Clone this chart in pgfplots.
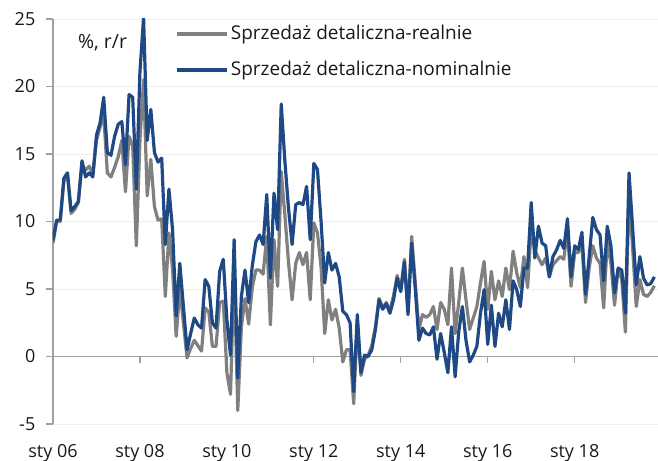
\documentclass[border=0pt]{standalone}
\usepackage{pgfplots}
\usepackage{pgfplotstable}
\pgfplotsset{compat=1.18}
\usepackage{fontspec}
\setmainfont{Open Sans}
\definecolor{nom}{RGB}{31,73,133}
\definecolor{realc}{RGB}{128,128,128}
\definecolor{axc}{RGB}{160,160,160}
\definecolor{gridc}{RGB}{238,238,238}
\definecolor{txt}{RGB}{25,25,25}

\pgfplotstableread{
i real nom
0 8.4 8.6
1 10.0 10.1
2 10.0 10.1
3 13.0 13.2
4 13.4 13.6
5 10.6 10.8
6 10.9 11.1
7 11.4 11.5
8 14.2 14.5
9 13.8 13.3
10 14.1 13.6
11 13.5 13.3
12 16.0 16.4
13 17.0 17.3
14 17.9 19.2
15 13.6 15.1
16 13.3 14.9
17 14.0 16.3
18 14.8 17.2
19 16.0 17.4
20 12.2 14.2
21 16.3 19.4
22 15.6 19.2
23 8.2 12.4
24 16.0 21.1
25 20.5 25.1
26 11.9 16.0
27 14.6 18.3
28 11.1 15.1
29 10.1 14.4
30 10.2 14.7
31 4.45 8.3
32 9.15 12.4
33 6.5 9.4
34 1.5 3.0
35 5.0 6.9
36 2.5 3.7
37 -0.1 0.5
38 0.6 1.7
39 1.2 2.85
40 0.8 2.35
41 0.4 2.1
42 3.6 5.7
43 3.3 5.2
44 0.75 2.5
45 0.75 2.1
46 4.0 6.3
47 4.1 7.2
48 -1.2 2.7
49 -2.8 0.1
50 6.5 8.65
51 -4.0 -1.6
52 2.2 4.45
53 4.3 6.4
54 2.4 4.0
55 5.1 6.7
56 6.4 8.5
57 6.4 9.0
58 6.1 8.3
59 8.9 12.0
60 2.35 5.8
61 8.65 12.1
62 5.2 9.4
63 13.7 18.7
64 10.5 14.5
65 7.0 11.0
66 4.2 8.3
67 6.9 11.25
68 7.7 11.4
69 6.8 11.25
70 7.7 12.6
71 4.2 8.65
72 9.9 14.3
73 9.15 13.85
74 6.6 10.0
75 1.7 5.45
76 4.2 7.7
77 2.7 6.4
78 3.5 6.9
79 2.1 5.9
80 -0.4 3.35
81 0.5 3.1
82 0.5 2.5
83 -3.5 -2.6
84 2.6 3.1
85 -1.4 -1.2
86 -0.2 0.1
87 0.1 0.0
88 0.8 0.5
89 2.2 2.0
90 4.3 4.2
91 3.6 3.5
92 4.0 3.9
93 3.4 3.2
94 4.5 4.2
95 6.0 5.8
96 5.0 4.8
97 7.2 7.0
98 3.3 3.1
99 8.9 8.4
100 5.5 5.0
101 2.0 1.2
102 3.1 2.1
103 2.9 1.7
104 3.1 1.6
105 3.7 2.2
106 2.0 -0.2
107 4.0 1.7
108 3.5 0.3
109 2.35 -1.2
110 6.55 2.2
111 1.7 -1.5
112 4.0 1.85
113 6.55 3.7
114 4.2 1.2
115 2.0 -0.4
116 2.85 0.1
117 3.7 0.75
118 5.45 3.2
119 7.05 4.95
120 3.5 0.9
121 6.3 3.8
122 4.2 0.75
123 5.6 3.2
124 4.45 2.2
125 6.55 4.2
126 4.95 2.0
127 7.8 5.6
128 6.2 4.95
129 5.1 3.7
130 7.4 6.55
131 5.1 6.55
132 9.5 11.4
133 7.9 7.3
134 7.3 9.65
135 6.8 8.4
136 7.3 8.2
137 5.9 5.9
138 6.8 7.4
139 7.1 7.9
140 7.4 8.6
141 7.2 8.0
142 9.4 10.2
143 5.2 5.9
144 7.7 8.2
145 7.7 7.9
146 8.3 9.2
147 4.0 4.6
148 6.55 7.4
149 8.2 10.3
150 7.3 9.4
151 6.9 9.0
152 3.6 5.6
153 8.5 9.65
154 6.9 8.2
155 3.8 4.7
156 6.5 6.55
157 5.7 6.4
158 1.8 3.2
159 12.0 13.6
160 8.0 9.5
161 3.7 5.3
162 5.7 7.4
163 4.6 5.8
164 4.45 5.3
165 4.75 5.4
166 5.25 5.9
}\datatab

\begin{document}
\fontsize{18bp}{22bp}\selectfont
\begin{tikzpicture}
\useasboundingbox (-53bp,-37bp) rectangle (605bp,424bp);
\begin{axis}[
  at={(0,0)}, anchor=south west,
  scale only axis, width=605bp, height=405bp,
  xmin=0, xmax=167, ymin=-5, ymax=25,
  axis y line*=left, axis x line*=middle,
  hide obscured x ticks=false,
  axis line style={draw=axc, line width=1.3bp},
  ytick={-5,0,5,10,15,20,25},
  yticklabels={-5,0,5,10,15,20,25},
  xtick={0,24,48,72,96,120,144},
  xticklabels={sty 06,sty 08,sty 10,sty 12,sty 14,sty 16,sty 18},
  tick align=outside, major tick length=6.5bp,
  tick style={draw=axc, line width=1.3bp},
  ymajorgrids, grid style={draw=gridc, line width=0.8bp},
  ticklabel style={font=\fontsize{18bp}{22bp}\selectfont, text=txt},
  xticklabel style={yshift=-75bp},
  yticklabel style={xshift=-5bp},
  legend style={draw=none, fill=none, at={(0.197,0.995)}, anchor=north west,
    font=\fontsize{19bp}{23bp}\selectfont, text=txt,
    row sep=15bp, nodes={inner sep=2bp}},
  legend cell align=left,
  legend image code/.code={\draw[#1, line width=3.5bp] (0bp,0bp) -- (50bp,0bp);},
]
\addplot[realc, line width=3.2bp, line join=round] table[x=i, y=real] {\datatab};
\addlegendentry{Sprzedaż detaliczna-realnie}
\addplot[nom, line width=3.2bp, line join=round] table[x=i, y=nom] {\datatab};
\addlegendentry{Sprzedaż detaliczna-nominalnie}
\node[text=txt, font=\fontsize{19.5bp}{23bp}\selectfont] at (rel axis cs:0.082,0.941) {\%, r/r};
\end{axis}
\end{tikzpicture}
\end{document}
